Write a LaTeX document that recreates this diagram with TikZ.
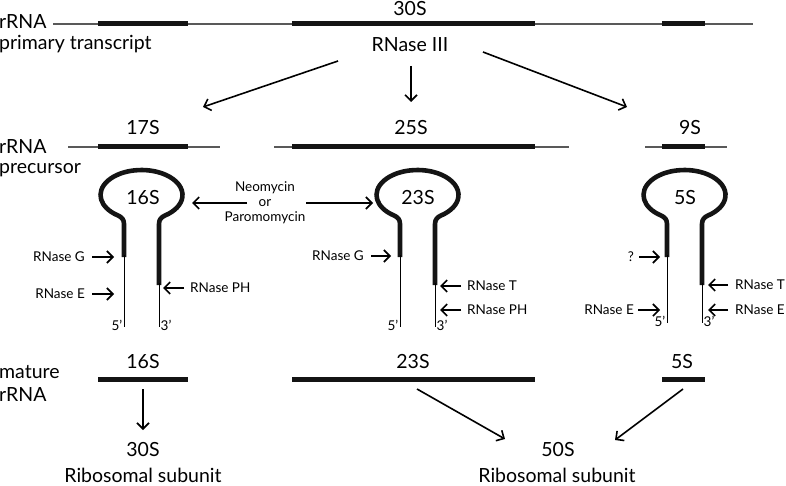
\documentclass[tikz,border=0pt]{standalone}
\usepackage{fontspec}
\setmainfont{Lato}
\usetikzlibrary{arrows.meta}
\newcommand{\sq}{{\char"0027}}
\begin{document}
\begin{tikzpicture}[x=1pt,y=-1pt,
  rnathin/.style={line width=1.1pt, draw=black!65},
  rnathick/.style={line width=5pt, draw=black!92, line cap=butt},
  loopline/.style={line width=4.6pt, draw=black!92, line cap=butt, line join=round},
  stemthin/.style={line width=1pt, draw=black},
  arr/.style={line width=1.6pt, -{Straight Barb[length=6pt,width=12pt,line width=1.6pt]}},
  big/.style={inner sep=0pt, font=\fontsize{19.5}{21}\selectfont},
  small/.style={inner sep=0pt, font=\fontsize{13.5}{15}\selectfont},
  prime/.style={inner sep=0pt, font=\fontsize{13.5}{15}\selectfont}]
\useasboundingbox (0,0) rectangle (786,486);

% ---------- primary transcript ----------
\node[big, anchor=west] (lab1a) at (-1,22) {rRNA};
\node[big, anchor=west] (lab1b) at (-1,44) {primary transcript};
\draw[rnathin] (53,24) -- (753,24);
\draw[rnathick] (98,24) -- (188,24);
\draw[rnathick] (292,24) -- (535,24);
\draw[rnathick] (662,24) -- (705,24);
\node[big] (t30S) at (410,9) {30S};
\node[big] (rIII) at (410,45) {RNase III};

\coordinate (a1s) at (338,61);  \coordinate (a1e) at (203,107);
\coordinate (a2s) at (411,66);  \coordinate (a2e) at (411,102);
\coordinate (a3s) at (483,52);  \coordinate (a3e) at (627,107);
\draw[arr] (a1s) -- (a1e);
\draw[arr] (a2s) -- (a2e);
\draw[arr] (a3s) -- (a3e);

% ---------- precursor ----------
\node[big, anchor=west] (lab2a) at (-1,147) {rRNA};
\node[big, anchor=west] (lab2b) at (-1,170) {precursor};
\draw[rnathin] (68,147) -- (220,147);
\draw[rnathick] (98,147) -- (188,147);
\draw[rnathin] (274,147) -- (569,147);
\draw[rnathick] (292,147) -- (535,147);
\draw[rnathin] (645,147) -- (727,147);
\draw[rnathick] (662,147) -- (705,147);
\node[big] (p17) at (143,128) {17S};
\node[big] (p25) at (411,128) {25S};
\node[big] (p9) at (690,128) {9S};

% ---------- hairpins ----------
\foreach \cx/\lb/\tx/\bot in {141.5/16S/143/327, 417.5/23S/418/327, 684.5/5S/685/323}{
  \draw[loopline] (\cx-17.5,257) -- (\cx-17.5,224)
     .. controls (\cx-17.5,219.5) and (\cx-19.8,217.1) .. (\cx-23.5,215.5)
     arc[start angle=125, end angle=415, x radius=41, y radius=25]
     .. controls (\cx+19.8,217.1) and (\cx+17.5,219.5) .. (\cx+17.5,224)
     -- (\cx+17.5,285);
  \draw[stemthin] (\cx-17.5,255) -- (\cx-17.5,\bot);
  \draw[stemthin] (\cx+17.5,283) -- (\cx+17.5,\bot);
  \node[big] at (\tx,198) {\lb};
  \node[prime, anchor=south east] at (\cx-19,\bot+4) {5\sq};
  \node[prime, anchor=south west] at (\cx+19,\bot+4) {3\sq};
}

% 16S enzymes
\node[small, anchor=east] (g16) at (85,257) {RNase G};
\coordinate (g16s) at (92,257); \coordinate (g16e) at (114,257);
\draw[arr] (g16s) -- (g16e);
\node[small, anchor=east] (e16) at (85,294) {RNase E};
\coordinate (e16s) at (92,294); \coordinate (e16e) at (114,294);
\draw[arr] (e16s) -- (e16e);
\node[small, anchor=west] (ph16) at (190,288) {RNase PH};
\coordinate (ph16s) at (184,288); \coordinate (ph16e) at (163,288);
\draw[arr] (ph16s) -- (ph16e);

% antibiotics
\node[small] (neo) at (265,188) {Neomycin};
\node[small] (or) at (265,203) {or};
\node[small] (paro) at (265,218) {Paromomycin};
\coordinate (nls) at (247,203); \coordinate (nle) at (192,203);
\coordinate (nrs) at (306,203); \coordinate (nre) at (373,203);
\draw[arr] (nls) -- (nle);
\draw[arr] (nrs) -- (nre);

% 23S enzymes
\node[small, anchor=east] (g23) at (364,256) {RNase G};
\coordinate (g23s) at (371,256); \coordinate (g23e) at (391,256);
\draw[arr] (g23s) -- (g23e);
\node[small, anchor=west] (t23) at (467,286) {RNase T};
\coordinate (t23s) at (461,286); \coordinate (t23e) at (440,286);
\draw[arr] (t23s) -- (t23e);
\node[small, anchor=west] (ph23) at (467,310) {RNase PH};
\coordinate (ph23s) at (461,310); \coordinate (ph23e) at (440,310);
\draw[arr] (ph23s) -- (ph23e);

% 5S enzymes
\node[small, anchor=east] (q5) at (634,257) {?};
\coordinate (q5s) at (639,257); \coordinate (q5e) at (660,257);
\draw[arr] (q5s) -- (q5e);
\node[small, anchor=east] (e5) at (634,310) {RNase E};
\coordinate (e5s) at (638,310); \coordinate (e5e) at (660,310);
\draw[arr] (e5s) -- (e5e);
\node[small, anchor=west] (t5) at (735,285) {RNase T};
\coordinate (t5s) at (728,285); \coordinate (t5e) at (708,285);
\draw[arr] (t5s) -- (t5e);
\node[small, anchor=west] (er5) at (735,310) {RNase E};
\coordinate (er5s) at (728,310); \coordinate (er5e) at (708,310);
\draw[arr] (er5s) -- (er5e);

% ---------- mature ----------
\node[big, anchor=west] (lab3a) at (-1,372) {mature};
\node[big, anchor=west] (lab3b) at (-1,395) {rRNA};
\draw[rnathick] (98,379) -- (188,379);
\draw[rnathick] (292,379) -- (535,379);
\draw[rnathick] (662,379) -- (705,379);
\node[big] (m16) at (143,362) {16S};
\node[big] (m23) at (413,362) {23S};
\node[big] (m5) at (682,362) {5S};

\coordinate (b1s) at (143,389); \coordinate (b1e) at (143,430);
\draw[arr] (b1s) -- (b1e);
\coordinate (b2s) at (417,389); \coordinate (b2e) at (505,439);
\draw[arr] (b2s) -- (b2e);
\coordinate (b3s) at (683,389); \coordinate (b3e) at (615,440);
\draw[arr] (b3s) -- (b3e);

\node[big] (s30) at (143,450) {30S};
\node[big] (rs1) at (143,475) {Ribosomal subunit};
\node[big] (s50) at (558,450) {50S};
\node[big] (rs2) at (557,475) {Ribosomal subunit};
\end{tikzpicture}
\end{document}
